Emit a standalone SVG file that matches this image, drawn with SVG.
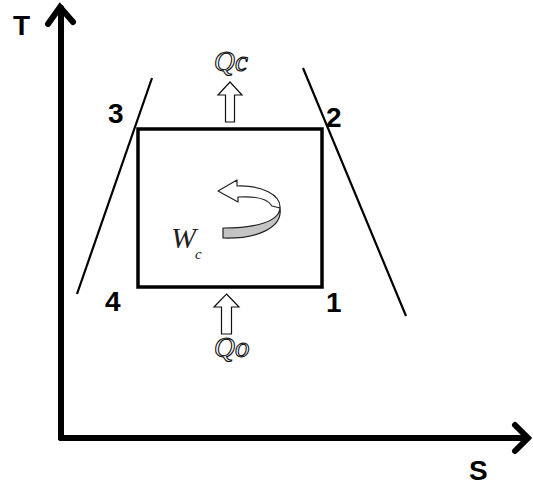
<svg xmlns="http://www.w3.org/2000/svg" width="533" height="488" viewBox="0 0 533 488">
<style>
.axis{stroke:#000;stroke-width:6;fill:none;stroke-linecap:round;stroke-linejoin:miter}
.line{stroke:#000;stroke-width:2.2;fill:none}
.lbl{font-family:"Liberation Sans",Arial,sans-serif;font-weight:bold;font-size:28px;fill:#000}
.q{font-family:"Liberation Serif","Times New Roman",serif;font-style:italic;font-size:29px;fill:#fff;stroke:#111;stroke-width:1.1}
.harrow{fill:#fff;stroke:#111;stroke-width:1.2}
</style>
<rect width="533" height="488" fill="#fff"/>
<g id="axes">
  <line class="axis" x1="61" y1="8" x2="61" y2="438"/>
  <polyline class="axis" points="48,24 60,7 73,22"/>
  <line class="axis" x1="61" y1="438" x2="527" y2="438"/>
  <polyline class="axis" points="515,425 528,438 515,451"/>
  <text class="lbl" x="13" y="35">T</text>
  <text class="lbl" x="469" y="480">S</text>
</g>
<g id="connectors">
  <line class="line" x1="152" y1="78" x2="77" y2="294"/>
  <line class="line" x1="303" y1="68" x2="406" y2="316"/>
</g>
<g id="cycle">
  <rect x="138" y="129" width="184" height="158" fill="none" stroke="#000" stroke-width="3.5"/>
</g>
<g id="n3"><text class="lbl" x="108" y="123">3</text></g>
<g id="n2"><text class="lbl" x="326" y="127">2</text></g>
<g id="n4"><text class="lbl" x="105" y="311">4</text></g>
<g id="n1"><text class="lbl" x="326" y="312">1</text></g>
<g id="qc">
  <path class="harrow" d="M230,82 L242,95 L234.5,95 L234.5,122 L225.5,122 L225.5,95 L218,95 Z"/>
  <text class="q" x="214" y="71">Qc</text>
</g>
<g id="qo">
  <path class="harrow" d="M226.5,294 L239,307 L231.5,307 L231.5,334 L221.5,334 L221.5,307 L214,307 Z"/>
  <text class="q" x="214" y="357">Qo</text>
</g>
<g id="wc">
  <path d="M218,191 L237,180 L237,186 C262,185 281,195 280,208 L272,206 C268,199 255,196 238,197 L238,202 Z" fill="#fff" stroke="#222" stroke-width="1.2" stroke-linejoin="round"/>
  <path d="M280,208 C279,222 255,228 223,228 L223,238 C257,239 283,228 280,208 Z" fill="#c4c4c4" stroke="#222" stroke-width="1.2" stroke-linejoin="round"/>
  <text x="171" y="248" font-family="'Liberation Serif','Times New Roman',serif" font-style="italic" font-size="30" fill="#222">W</text>
  <text x="195" y="259" font-family="'Liberation Serif','Times New Roman',serif" font-style="italic" font-size="15" fill="#222">c</text>
</g>
</svg>
